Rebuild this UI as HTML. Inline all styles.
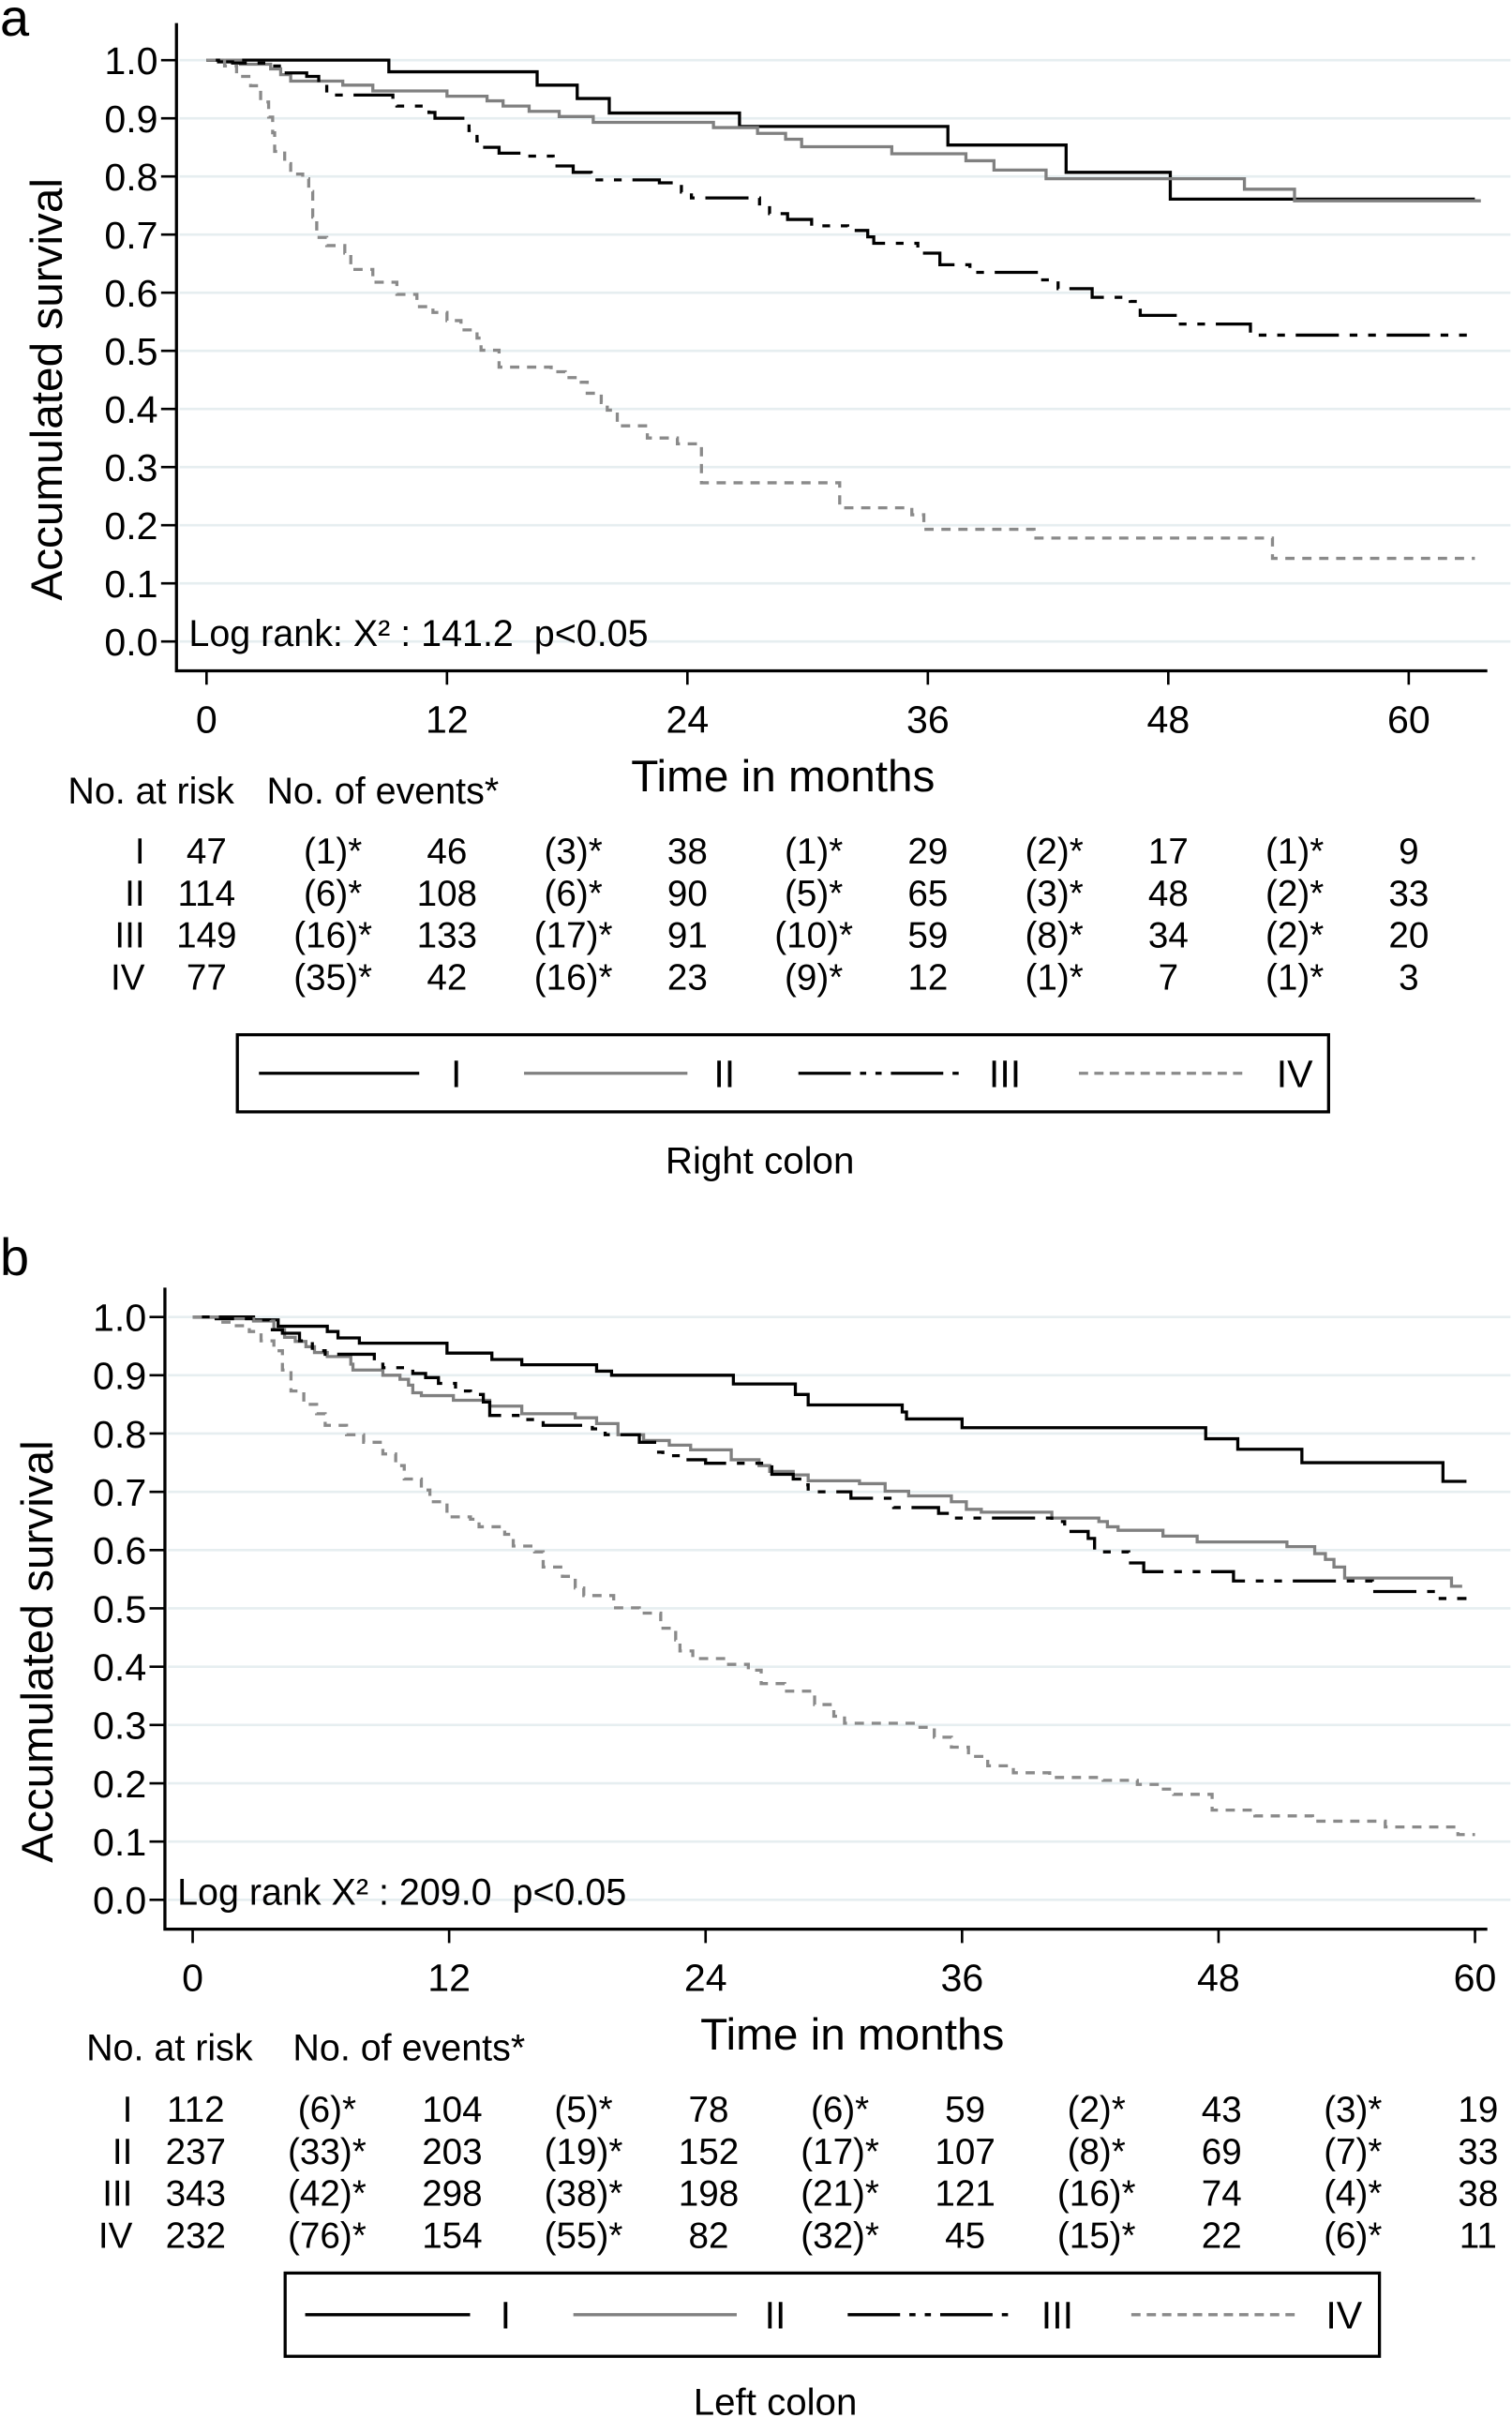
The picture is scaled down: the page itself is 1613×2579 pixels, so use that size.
<!DOCTYPE html>
<html><head><meta charset="utf-8"><style>
html,body{margin:0;padding:0;background:#fff}
svg{display:block}
text{font-family:"Liberation Sans",Arial,sans-serif;fill:#000;white-space:pre}
</style></head><body>
<svg id="fig" width="1613" height="2579" viewBox="0 0 981 1568" preserveAspectRatio="none" xmlns="http://www.w3.org/2000/svg">
<g id="pa"></g>
<g id="pb"></g>
</svg>
<script>
// ---------- Panel a (Right colon) data ----------
const aI_t = [9.1,16.5,18.5,20.1,26.6,37.0,42.9,48.1];
const aI_s = [0.98,0.957,0.934,0.909,0.886,0.854,0.807,0.761];
const aII_t = [1.7,3.2,3.7,4.2,6.8,8.3,12,14,14.8,16.1,17.6,19.3,25.3,27.5,28.9,29.7,34.2,37.9,39.3,41.9,51.8,54.3];
const aII_s = [0.993,0.985,0.975,0.964,0.957,0.947,0.938,0.93,0.921,0.912,0.903,0.893,0.884,0.874,0.864,0.851,0.839,0.827,0.811,0.796,0.778,0.758];
const aIII_t = [0.6,1.3,3.2,3.9,5,5.6,6,9.3,9.5,11.1,11.4,13.1,13.5,13.8,14.6,16,17.3,18.3,19.2,22.6,23.7,24.2,27.6,28.1,29,30.2,32,33,33.3,35.5,36.6,38.1,41.6,42.5,44.2,46.1,46.6,48.5,52.1];
const aIII_s = [0.997,0.995,0.99,0.978,0.972,0.962,0.94,0.928,0.921,0.91,0.9,0.879,0.861,0.85,0.84,0.835,0.818,0.807,0.794,0.789,0.773,0.763,0.749,0.736,0.726,0.715,0.707,0.696,0.685,0.668,0.648,0.635,0.622,0.607,0.592,0.585,0.561,0.546,0.527];
const aIV_t = [0.9,1.5,2.2,2.7,3.1,3.3,3.4,3.9,4.2,4.8,5.1,5.3,5.5,6,6.9,7.2,8.3,9.5,10.5,11.3,12,12.7,13.5,13.7,14.6,17.2,17.9,18.7,19,19.7,20,20.5,22,23.5,24.7,31.6,35.2,35.8,41.3,53.2];
const aIV_s = [0.99,0.972,0.956,0.928,0.902,0.875,0.843,0.822,0.804,0.796,0.774,0.73,0.695,0.681,0.668,0.64,0.618,0.597,0.576,0.566,0.552,0.536,0.522,0.501,0.472,0.464,0.454,0.446,0.427,0.411,0.398,0.371,0.35,0.34,0.273,0.23,0.218,0.193,0.178,0.143];
const aEnds = [63.3,63.6,63.4,63.3];
const aRisk = [[47,46,38,29,17,9],[114,108,90,65,48,33],[149,133,91,59,34,20],[77,42,23,12,7,3]];
const aEvents = [["(1)*","(3)*","(1)*","(2)*","(1)*"],["(6)*","(6)*","(5)*","(3)*","(2)*"],["(16)*","(17)*","(10)*","(8)*","(2)*"],["(35)*","(16)*","(9)*","(1)*","(1)*"]];

// ---------- Panel b (Left colon) data ----------
const bI_t = [2.85,4,6.3,6.8,7.8,11.9,14,15.4,18.9,19.6,25.3,28.2,28.8,33.2,33.4,36,47.4,48.9,51.9,58.5];
const bI_s = [0.995,0.984,0.975,0.964,0.955,0.938,0.927,0.918,0.907,0.9,0.885,0.867,0.849,0.837,0.825,0.81,0.791,0.773,0.75,0.718];
const bII_t = [1.1,2.85,3.8,4.3,4.8,5.3,5.7,6.3,7.4,7.5,8.9,9.7,10.1,10.3,10.7,12.2,13.9,15.4,17.9,18.9,19.9,21.1,22.3,23.3,25.2,26.5,27,28.1,28.8,31.2,32.4,33.5,35.5,36.2,36.9,40.2,42.4,42.8,43.3,45.4,47,51.2,52.5,53,53.4,53.9,58.9];
const bII_s = [0.997,0.993,0.978,0.965,0.958,0.949,0.939,0.932,0.919,0.909,0.9,0.893,0.883,0.87,0.865,0.857,0.847,0.834,0.827,0.817,0.798,0.788,0.78,0.772,0.755,0.745,0.735,0.729,0.719,0.714,0.701,0.693,0.683,0.67,0.665,0.655,0.649,0.64,0.634,0.624,0.614,0.606,0.594,0.584,0.571,0.552,0.538];
const bIII_t = [1.1,2.85,3.6,4.2,5,5.6,6.2,8.5,8.9,10.3,10.9,11.5,12.3,13,13.6,13.9,15.4,16.4,18.7,19.3,20.9,21.7,22,22.8,24,27.1,28.1,28.5,28.8,30.8,32.8,34.9,35.6,40.2,40.8,41.9,42.2,43.8,44.5,48.7,55.2,58.2];
const bIII_s = [0.997,0.995,0.978,0.972,0.959,0.942,0.936,0.919,0.913,0.903,0.896,0.886,0.873,0.867,0.854,0.831,0.824,0.814,0.808,0.798,0.785,0.768,0.762,0.755,0.749,0.73,0.722,0.712,0.7,0.689,0.673,0.663,0.655,0.649,0.632,0.62,0.597,0.578,0.563,0.547,0.529,0.517];
const bIV_t = [1.3,1.9,2.65,3.2,3.8,4.2,4.6,5.2,5.8,6.2,7.2,8,8.9,9.5,9.9,10.7,11.1,11.9,13,13.4,14.6,15,16,16.4,17.3,17.9,18.3,19.7,20.9,21.9,22.6,22.8,23.4,25,26,26.6,27.7,29.1,30,30.5,33.9,34.7,35.5,36.3,37.2,38.4,40.1,42.6,44.2,45.3,45.9,47.7,49.7,52.4,55.8,59.2];
const bIV_s = [0.991,0.985,0.975,0.959,0.942,0.909,0.873,0.85,0.834,0.814,0.798,0.785,0.765,0.745,0.722,0.703,0.683,0.657,0.653,0.64,0.627,0.607,0.597,0.571,0.555,0.535,0.522,0.501,0.492,0.466,0.446,0.427,0.414,0.404,0.394,0.371,0.358,0.335,0.315,0.303,0.296,0.279,0.262,0.246,0.23,0.218,0.21,0.205,0.198,0.19,0.181,0.154,0.144,0.135,0.125,0.112];
const bEnds = [59.6,59.4,59.6,60];
const bRisk = [[112,104,78,59,43,19],[237,203,152,107,69,33],[343,298,198,121,74,38],[232,154,82,45,22,11]];
const bEvents = [["(6)*","(5)*","(6)*","(2)*","(3)*"],["(33)*","(19)*","(17)*","(8)*","(7)*"],["(42)*","(38)*","(21)*","(16)*","(4)*"],["(76)*","(55)*","(32)*","(15)*","(6)*"]];

const yTicks = [0,0.1,0.2,0.3,0.4,0.5,0.6,0.7,0.8,0.9,1.0];
const xTicks = [0,12,24,36,48,60];
const groups = ["I","II","III","IV"];

const NS = "http://www.w3.org/2000/svg";
function mk(parent, tag, attrs, txt){
  const e = document.createElementNS(NS, tag);
  for (const k in attrs) e.setAttribute(k, attrs[k]);
  if (txt !== undefined) e.textContent = txt;
  parent.appendChild(e);
  return e;
}
const styles = [
  {stroke:"#000", dash:null},
  {stroke:"#808080", dash:null},
  {stroke:"#000", dash:"28 7 5 7 5 7"},
  {stroke:"#8a8a8a", dash:"6 5"}
];

function panel(g, cfg){
  const X = m => cfg.x0 + m*(cfg.x60-cfg.x0)/60;
  const Y = v => cfg.y0 - v*(cfg.y0-cfg.y1);
  let e;
  e = mk(g,"text",{x:cfg.lx,y:cfg.ly,"font-size":34},cfg.letter);
  
  
  yTicks.forEach(v=>{
    e = mk(g,"line",{x1:cfg.ax+2,x2:980,y1:Y(v),y2:Y(v),stroke:"#e6eef0","stroke-width":1.6});
    
    
    e = mk(g,"line",{x1:cfg.ax-10,x2:cfg.ax,y1:Y(v),y2:Y(v),stroke:"#000","stroke-width":1.6});
    
    
    e = mk(g,"text",{x:cfg.ax-12,y:Y(v)+9,"font-size":25,"text-anchor":"end"},v.toFixed(1));
    
    
  });
  e = mk(g,"path",{d:`M${cfg.ax},${cfg.atop} V${cfg.axy} H${cfg.axr}`,fill:"none",stroke:"#000","stroke-width":2});
  
  
  xTicks.forEach(m=>{
    e = mk(g,"line",{x1:X(m),x2:X(m),y1:cfg.axy,y2:cfg.axy+9,stroke:"#000","stroke-width":1.6});
    
    
    e = mk(g,"text",{x:X(m),y:cfg.axy+40,"font-size":25,"text-anchor":"middle"},String(m));
    
    
  });
  const cy = (Y(0)+Y(1))/2 + cfg.ytdy;
  e = mk(g,"text",{x:0,y:0,"font-size":29,"text-anchor":"middle",transform:`translate(${cfg.ytx},${cy}) rotate(-90)`},"Accumulated survival");
  
  
  e = mk(g,"text",{x:cfg.xtx,y:cfg.axy+78,"font-size":29,"text-anchor":"middle"},"Time in months");
  
  
  e = mk(g,"text",{x:cfg.ax+8,y:Y(0)+3,"font-size":24},cfg.logrank);
  
  
  cfg.series.forEach((sr,i)=>{
    let d = `M${X(0)},${Y(1)}`;
    for (let k=0;k<sr.t.length;k++){ d += ` H${X(sr.t[k])} V${Y(sr.s[k])}`; }
    d += ` H${X(cfg.ends[i])}`;
    const st = styles[i];
    e = mk(g,"path",{d:d,fill:"none",stroke:st.stroke,"stroke-width":2});
    if (st.dash) e.setAttribute("stroke-dasharray",st.dash);
    
    
  });
  e = mk(g,"text",{x:cfg.hx1,y:cfg.hy,"font-size":24},"No. at risk");
  
  
  e = mk(g,"text",{x:cfg.hx2,y:cfg.hy,"font-size":24},"No. of events*");
  
  
  groups.forEach((gr,r)=>{
    const y = cfg.ry0 + r*27.2;
    e = mk(g,"text",{x:cfg.rlx,y:y,"font-size":23.5,"text-anchor":"end"},gr);
    
    
    cfg.risk[r].forEach((n,c)=>{
      e = mk(g,"text",{x:X(c*12)+cfg.rdx,y:y,"font-size":23.5,"text-anchor":"middle"},String(n));
      
      
    });
    cfg.events[r].forEach((n,c)=>{
      e = mk(g,"text",{x:X(c*12+6)+4,y:y,"font-size":23.5,"text-anchor":"middle"},n);
      
      
    });
  });
  e = mk(g,"rect",{x:cfg.lgx,y:cfg.lgy,width:cfg.lgw,height:cfg.lgh,fill:"#fff",stroke:"#000","stroke-width":2});
  
  
  const ly = cfg.lgy + cfg.lgh/2;
  cfg.legItems.forEach((it,i)=>{
    const st = styles[i];
    e = mk(g,"line",{x1:it[0],x2:it[1],y1:ly,y2:ly,stroke:st.stroke,"stroke-width":2});
    if (st.dash) e.setAttribute("stroke-dasharray", i==2 ? "34 6 4 6 4 6" : "6 4");
    
    
    e = mk(g,"text",{x:it[2],y:ly+9,"font-size":25,"text-anchor":"middle"},groups[i]);
    
    
  });
  e = mk(g,"text",{x:cfg.capx,y:cfg.capy,"font-size":24.5,"text-anchor":"middle"},cfg.caption);
  
  
}

panel(document.getElementById("pa"),{
  letter:"a",lx:0,ly:23,x0:134,x60:914,y0:416,y1:39,ax:114.5,atop:15,axy:435,axr:965,
  ytx:40,ytdy:25,xtx:508,logrank:"Log rank: X\u00B2 : 141.2\u00A0\u00A0p<0.05",
  series:[{t:aI_t,s:aI_s},{t:aII_t,s:aII_s},{t:aIII_t,s:aIII_s},{t:aIV_t,s:aIV_s}],ends:aEnds,
  hx1:44,hx2:173,hy:521,ry0:560,rlx:94,rdx:0,risk:aRisk,events:aEvents,
  lgx:154,lgy:671,lgw:708,lgh:50,legItems:[[168,272,296],[340,446,470],[518,624,652],[700,810,840]],
  caption:"Right colon",capx:493,capy:761
});
panel(document.getElementById("pb"),{
  letter:"b",lx:0,ly:827,x0:125,x60:957,y0:1232,y1:854,ax:107,atop:835,axy:1251,axr:965,
  ytx:34,ytdy:28,xtx:553,logrank:"Log rank X\u00B2 : 209.0\u00A0\u00A0p<0.05",
  series:[{t:bI_t,s:bI_s},{t:bII_t,s:bII_s},{t:bIII_t,s:bIII_s},{t:bIV_t,s:bIV_s}],ends:bEnds,
  hx1:56,hx2:190,hy:1336,ry0:1376,rlx:86,rdx:2,risk:bRisk,events:bEvents,
  lgx:185,lgy:1474,lgw:710,lgh:54,legItems:[[198,305,328],[372,478,503],[550,657,686],[734,840,872]],
  caption:"Left colon",capx:503,capy:1566
});
</script>
</body></html>
